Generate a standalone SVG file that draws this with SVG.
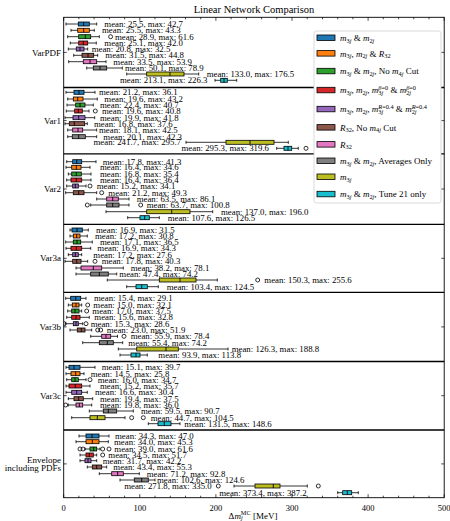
<svg xmlns="http://www.w3.org/2000/svg" width="450" height="521" viewBox="0 0 450 521">
<style>
text{font-family:"Liberation Serif","Times New Roman",serif;fill:#000}
.t{font-size:8.8px}
.e{font-size:8.8px;text-anchor:end}
.w{stroke:#000;stroke-width:0.8;fill:none}
.b{stroke:#000;stroke-width:0.8}
.m{stroke:#000;stroke-width:0.9;fill:none}
.o{fill:none;stroke:#000;stroke-width:0.8}
.c0{fill:#1f77b4}.c1{fill:#ff7f0e}.c2{fill:#2ca02c}.c3{fill:#d62728}.c4{fill:#9467bd}
.c5{fill:#8c564b}.c6{fill:#e377c2}.c7{fill:#7f7f7f}.c8{fill:#bcbd22}.c9{fill:#17becf}
.ax{stroke:#000;fill:none}
.tk{stroke:#000;stroke-width:0.7;fill:none}
.yl{font-size:9px;text-anchor:end}
.xl{font-size:8.5px;text-anchor:middle}
.lg{font-size:9px}
.i{font-style:italic}
.s{font-size:6.3px}
</style>
<defs>
<clipPath id="pc"><rect x="63.7" y="17.3" width="380.5" height="480.4"/></clipPath>
</defs>
<rect width="450" height="521" fill="#fff"/>
<text x="254" y="12.8" style="font-size:10.5px;text-anchor:middle">Linear Network Comparison</text>

<g id="boxes" clip-path="url(#pc)">
<g id="varpdf">
<g id="varpdf-1"><path class="w" d="M66 24H78.3M89.3 24H96.7M66 22.5V25.5M96.7 22.5V25.5"/><rect class="b c0" x="78.3" y="22" width="11" height="4"/><path class="m" d="M83.7 22V26"/><text class="t" x="104.3" y="26.8">mean: 25.5, max: 42.7</text></g>
<g id="varpdf-2"><path class="w" d="M71 30.3H77.7M89.3 30.3H94.3M71 28.8V31.8M94.3 28.8V31.8"/><rect class="b c1" x="77.7" y="28.3" width="11.6" height="4"/><path class="m" d="M83.7 28.3V32.3"/><text class="t" x="102" y="33.1">mean: 25.5, max: 43.3</text></g>
<g id="varpdf-3"><path class="w" d="M67.7 36.7H78.7M90.7 36.7H99.3M67.7 35.2V38.2M99.3 35.2V38.2"/><rect class="b c2" x="78.7" y="34.7" width="12" height="4"/><path class="m" d="M85.3 34.7V38.7"/><circle class="o" cx="110.6" cy="36.7" r="2"/><text class="t" x="115" y="39.5">mean: 28.9, max: 61.6</text></g>
<g id="varpdf-4"><path class="w" d="M70.3 43H78.7M87.7 43H96.3M70.3 41.5V44.5M96.3 41.5V44.5"/><rect class="b c3" x="78.7" y="41" width="9" height="4"/><path class="m" d="M83.3 41V45"/><text class="t" x="104.3" y="45.8">mean: 25.1, max: 42.0</text></g>
<g id="varpdf-5"><path class="w" d="M68.3 49H76.3M84 49H87.7M68.3 47.5V50.5M87.7 47.5V50.5"/><rect class="b c4" x="76.3" y="47" width="7.7" height="4"/><path class="m" d="M80 47V51"/><text class="t" x="91.7" y="51.8">mean: 20.8, max: 32.5</text></g>
<g id="varpdf-6"><path class="w" d="M73.7 55.3H82M93.7 55.3H97.7M73.7 53.8V56.8M97.7 53.8V56.8"/><rect class="b c5" x="82" y="53.3" width="11.7" height="4"/><path class="m" d="M88 53.3V57.3"/><text class="t" x="105.3" y="58.1">mean: 31.5, max: 44.8</text></g>
<g id="varpdf-7"><path class="w" d="M68.7 61.7H83.3M96.7 61.7H106M68.7 60.2V63.2M106 60.2V63.2"/><rect class="b c6" x="83.3" y="59.7" width="13.4" height="4"/><path class="m" d="M90 59.7V63.7"/><text class="t" x="113.3" y="64.5">mean: 33.5, max: 53.9</text></g>
<g id="varpdf-8"><path class="w" d="M86.7 68H93.3M106.7 68H122.3M86.7 66.5V69.5M122.3 66.5V69.5"/><rect class="b c7" x="93.3" y="66" width="13.4" height="4"/><path class="m" d="M100 66V70"/><text class="t" x="125" y="70.8">mean: 50.1, max: 78.9</text></g>
<g id="varpdf-9"><path class="w" d="M126.7 74H146.7M184 74H198.7M126.7 72.5V75.5M198.7 72.5V75.5"/><rect class="b c8" x="146.7" y="72" width="37.3" height="4"/><path class="m" d="M170 72V76"/><text class="t" x="206.7" y="76.8">mean: 133.0, max: 176.5</text></g>
<g id="varpdf-10"><path class="w" d="M215 80.3H220.7M227.3 80.3H236.7M215 78.8V81.8M236.7 78.8V81.8"/><rect class="b c9" x="220.7" y="78.3" width="6.6" height="4"/><path class="m" d="M224 78.3V82.3"/><text class="e" x="207.5" y="83.1">mean: 213.1, max: 226.3</text></g>
</g>

<g id="var1">
<g id="var1-1"><path class="w" d="M66 92.3H74M84 92.3H95M66 90.8V93.8M95 90.8V93.8"/><rect class="b c0" x="74" y="90.3" width="10" height="4"/><path class="m" d="M79 90.3V94.3"/><text class="t" x="99" y="95.1">mean: 21.2, max: 36.1</text></g>
<g id="var1-2"><path class="w" d="M67.7 99H73.3M83 99H97.3M67.7 97.5V100.5M97.3 97.5V100.5"/><rect class="b c1" x="73.3" y="97" width="9.7" height="4"/><path class="m" d="M77.7 97V101"/><text class="t" x="104.3" y="101.8">mean: 19.6, max: 43.2</text></g>
<g id="var1-3"><path class="w" d="M67 105H75.7M85 105H93.3M67 103.5V106.5M93.3 103.5V106.5"/><rect class="b c2" x="75.7" y="103" width="9.3" height="4"/><path class="m" d="M80 103V107"/><text class="t" x="100" y="107.8">mean: 22.4, max: 40.7</text></g>
<g id="var1-4"><path class="w" d="M66.3 111H74.7M82.3 111H89M66.3 109.5V112.5M89 109.5V112.5"/><rect class="b c3" x="74.7" y="109" width="7.6" height="4"/><path class="m" d="M78.3 109V113"/><circle class="o" cx="95.3" cy="111" r="2"/><text class="t" x="102" y="113.8">mean: 19.6, max: 40.8</text></g>
<g id="var1-5"><path class="w" d="M65 117.7H73M85 117.7H94.7M65 116.2V119.2M94.7 116.2V119.2"/><rect class="b c4" x="73" y="115.7" width="12" height="4"/><path class="m" d="M78.7 115.7V119.7"/><text class="t" x="100" y="120.5">mean: 19.9, max: 41.8</text></g>
<g id="var1-6"><path class="w" d="M65 123.7H69.3M84.7 123.7H87.3M65 122.2V125.2M87.3 122.2V125.2"/><rect class="b c5" x="69.3" y="121.7" width="15.4" height="4"/><path class="m" d="M74.3 121.7V125.7"/><text class="t" x="94" y="126.5">mean: 16.8, max: 37.6</text></g>
<g id="var1-7"><path class="w" d="M67.7 130H72.7M82.7 130H96.7M67.7 128.5V131.5M96.7 128.5V131.5"/><rect class="b c6" x="72.7" y="128" width="10" height="4"/><path class="m" d="M78 128V132"/><text class="t" x="99" y="132.8">mean: 18.1, max: 42.5</text></g>
<g id="var1-8"><path class="w" d="M67.7 136.7H72.3M85.3 136.7H96.7M67.7 135.2V138.2M96.7 135.2V138.2"/><rect class="b c7" x="72.3" y="134.7" width="13" height="4"/><path class="m" d="M78.7 134.7V138.7"/><text class="t" x="103.3" y="139.5">mean: 20.1, max: 42.3</text></g>
<g id="var1-9"><path class="w" d="M186 142.3H226M274 142.3H288.3M186 140.8V143.8M288.3 140.8V143.8"/><rect class="b c8" x="226" y="140.3" width="48" height="4"/><path class="m" d="M250 140.3V144.3"/><text class="e" x="181" y="145.1">mean: 241.7, max: 295.7</text></g>
<g id="var1-10"><path class="w" d="M276.7 148.3H284M291.7 148.3H298.3M276.7 146.8V149.8M298.3 146.8V149.8"/><rect class="b c9" x="284" y="146.3" width="7.7" height="4"/><path class="m" d="M288 146.3V150.3"/><circle class="o" cx="306" cy="148.3" r="2"/><text class="e" x="269" y="151.1">mean: 295.3, max: 319.6</text></g>
</g>

<g id="var2">
<g id="var2-1"><path class="w" d="M66.7 161.7H72.7M81.7 161.7H96M66.7 160.2V163.2M96 160.2V163.2"/><rect class="b c0" x="72.7" y="159.7" width="9" height="4"/><path class="m" d="M76.7 159.7V163.7"/><text class="t" x="102.7" y="164.5">mean: 17.8, max: 41.3</text></g>
<g id="var2-2"><path class="w" d="M66 167.3H71.7M81 167.3H90M66 165.8V168.8M90 165.8V168.8"/><rect class="b c1" x="71.7" y="165.3" width="9.3" height="4"/><path class="m" d="M76.3 165.3V169.3"/><text class="t" x="100" y="170.1">mean: 16.4, max: 34.6</text></g>
<g id="var2-3"><path class="w" d="M68.3 174H71.7M81.3 174H91M68.3 172.5V175.5M91 172.5V175.5"/><rect class="b c2" x="71.7" y="172" width="9.6" height="4"/><path class="m" d="M76.3 172V176"/><text class="t" x="100" y="176.8">mean: 16.8, max: 35.4</text></g>
<g id="var2-4"><path class="w" d="M66.7 180H71M81.7 180H91M66.7 178.5V181.5M91 178.5V181.5"/><rect class="b c3" x="71" y="178" width="10.7" height="4"/><path class="m" d="M76.3 178V182"/><text class="t" x="100" y="182.8">mean: 16.4, max: 36.4</text></g>
<g id="var2-5"><path class="w" d="M66.7 186H72.7M78.3 186H86M66.7 184.5V187.5M86 184.5V187.5"/><rect class="b c4" x="72.7" y="184" width="5.6" height="4"/><path class="m" d="M75.3 184V188"/><circle class="o" cx="90" cy="186" r="2"/><text class="t" x="96.7" y="188.8">mean: 15.2, max: 34.1</text></g>
<g id="var2-6"><path class="w" d="M65.7 192.7H73.3M84 192.7H96.7M65.7 191.2V194.2M96.7 191.2V194.2"/><rect class="b c5" x="73.3" y="190.7" width="10.7" height="4"/><path class="m" d="M78.7 190.7V194.7"/><circle class="o" cx="101.7" cy="192.7" r="2"/><text class="t" x="108.3" y="195.5">mean: 21.2, max: 49.3</text></g>
<g id="var2-7"><path class="w" d="M96.7 199H106.7M118.3 199H129M96.7 197.5V200.5M129 197.5V200.5"/><rect class="b c6" x="106.7" y="197" width="11.6" height="4"/><path class="m" d="M112.7 197V201"/><text class="t" x="136.7" y="201.8">mean: 63.5, max: 86.1</text></g>
<g id="var2-8"><path class="w" d="M90.7 205H106.7M119 205H129M90.7 203.5V206.5M129 203.5V206.5"/><rect class="b c7" x="106.7" y="203" width="12.3" height="4"/><path class="m" d="M112.7 203V207"/><circle class="o" cx="87.3" cy="205" r="2"/><circle class="o" cx="140.7" cy="205" r="2"/><text class="t" x="146.7" y="207.8">mean: 63.7, max: 100.8</text></g>
<g id="var2-9"><path class="w" d="M106 211.7H146.7M190 211.7H212.7M106 210.2V213.2M212.7 210.2V213.2"/><rect class="b c8" x="146.7" y="209.7" width="43.3" height="4"/><path class="m" d="M171.7 209.7V213.7"/><text class="t" x="221" y="214.5">mean: 137.0, max: 196.0</text></g>
<g id="var2-10"><path class="w" d="M127.7 217.7H140M149.3 217.7H159.3M127.7 216.2V219.2M159.3 216.2V219.2"/><rect class="b c9" x="140" y="215.7" width="9.3" height="4"/><path class="m" d="M144.7 215.7V219.7"/><text class="t" x="167.7" y="220.5">mean: 107.6, max: 126.5</text></g>
</g>

<g id="var3a">
<g id="var3a-1"><path class="w" d="M70 230H72M82.3 230H88.3M70 228.5V231.5M88.3 228.5V231.5"/><rect class="b c0" x="72" y="228" width="10.3" height="4"/><path class="m" d="M77 228V232"/><text class="t" x="96" y="232.8">mean: 16.9, max: 31.5</text></g>
<g id="var3a-2"><path class="w" d="M70 236H73.3M80 236H87.3M70 234.5V237.5M87.3 234.5V237.5"/><rect class="b c1" x="73.3" y="234" width="6.7" height="4"/><path class="m" d="M76.7 234V238"/><text class="t" x="95" y="238.8">mean: 17.2, max: 30.8</text></g>
<g id="var3a-3"><path class="w" d="M65.7 242H73.3M80.7 242H92.3M65.7 240.5V243.5M92.3 240.5V243.5"/><rect class="b c2" x="73.3" y="240" width="7.4" height="4"/><path class="m" d="M77 240V244"/><text class="t" x="100" y="244.8">mean: 17.1, max: 36.5</text></g>
<g id="var3a-4"><path class="w" d="M66 248.3H71M81.7 248.3H90.7M66 246.8V249.8M90.7 246.8V249.8"/><rect class="b c3" x="71" y="246.3" width="10.7" height="4"/><path class="m" d="M76.3 246.3V250.3"/><text class="t" x="97.3" y="251.1">mean: 16.9, max: 34.3</text></g>
<g id="var3a-5"><path class="w" d="M68.3 254.7H72.7M78.3 254.7H81.7M68.3 253.2V256.2M81.7 253.2V256.2"/><rect class="b c4" x="72.7" y="252.7" width="5.6" height="4"/><path class="m" d="M75.3 252.7V256.7"/><text class="t" x="93.3" y="257.5">mean: 17.2, max: 27.6</text></g>
<g id="var3a-6"><path class="w" d="M65 261.3H72.7M81 261.3H87.7M65 259.8V262.8M87.7 259.8V262.8"/><rect class="b c5" x="72.7" y="259.3" width="8.3" height="4"/><path class="m" d="M76.7 259.3V263.3"/><circle class="o" cx="95" cy="261.3" r="2"/><text class="t" x="101.7" y="264.1">mean: 17.8, max: 40.3</text></g>
<g id="var3a-7"><path class="w" d="M76 268H81M101.7 268H123.3M76 266.5V269.5M123.3 266.5V269.5"/><rect class="b c6" x="81" y="266" width="20.7" height="4"/><path class="m" d="M93.3 266V270"/><text class="t" x="130.7" y="270.8">mean: 38.2, max: 78.1</text></g>
<g id="var3a-8"><path class="w" d="M76 274H90.7M108.3 274H116.7M76 272.5V275.5M116.7 272.5V275.5"/><rect class="b c7" x="90.7" y="272" width="17.6" height="4"/><path class="m" d="M99.3 272V276"/><text class="t" x="119.3" y="276.8">mean: 47.4, max: 74.2</text></g>
<g id="var3a-9"><path class="w" d="M107.3 280H159.3M196 280H217.3M107.3 278.5V281.5M217.3 278.5V281.5"/><rect class="b c8" x="159.3" y="278" width="36.7" height="4"/><path class="m" d="M180 278V282"/><circle class="o" cx="257.7" cy="280" r="2"/><text class="t" x="264.3" y="282.8">mean: 150.3, max: 255.6</text></g>
<g id="var3a-10"><path class="w" d="M126.7 286.7H136M147.3 286.7H158.3M126.7 285.2V288.2M158.3 285.2V288.2"/><rect class="b c9" x="136" y="284.7" width="11.3" height="4"/><path class="m" d="M141.7 284.7V288.7"/><text class="t" x="166.7" y="289.5">mean: 103.4, max: 124.5</text></g>
</g>

<g id="var3b">
<g id="var3b-1"><path class="w" d="M65.7 298.3H70.7M80.7 298.3H86M65.7 296.8V299.8M86 296.8V299.8"/><rect class="b c0" x="70.7" y="296.3" width="10" height="4"/><path class="m" d="M75.7 296.3V300.3"/><text class="t" x="94" y="301.1">mean: 15.4, max: 29.1</text></g>
<g id="var3b-2"><path class="w" d="M68.3 305H72.3M79 305H81.7M68.3 303.5V306.5M81.7 303.5V306.5"/><rect class="b c1" x="72.3" y="303" width="6.7" height="4"/><path class="m" d="M76 303V307"/><circle class="o" cx="87.7" cy="305" r="2"/><text class="t" x="93.3" y="307.8">mean: 15.0, max: 32.1</text></g>
<g id="var3b-3"><path class="w" d="M67.7 311H71.7M79 311H81.7M67.7 309.5V312.5M81.7 309.5V312.5"/><rect class="b c2" x="71.7" y="309" width="7.3" height="4"/><path class="m" d="M75 309V313"/><circle class="o" cx="86.7" cy="311" r="2"/><text class="t" x="92.3" y="313.8">mean: 17.0, max: 37.5</text></g>
<g id="var3b-4"><path class="w" d="M66.7 317.3H71.7M80 317.3H89.3M66.7 315.8V318.8M89.3 315.8V318.8"/><rect class="b c3" x="71.7" y="315.3" width="8.3" height="4"/><path class="m" d="M76 315.3V319.3"/><text class="t" x="94.3" y="320.1">mean: 15.6, max: 32.8</text></g>
<g id="var3b-5"><path class="w" d="M65.3 323.7H73.3M78.3 323.7H82.7M65.3 322.2V325.2M82.7 322.2V325.2"/><rect class="b c4" x="73.3" y="321.7" width="5" height="4"/><path class="m" d="M76 321.7V325.7"/><circle class="o" cx="64.3" cy="323.7" r="2"/><circle class="o" cx="86" cy="323.7" r="2"/><text class="t" x="90.7" y="326.5">mean: 15.3, max: 28.6</text></g>
<g id="var3b-6"><path class="w" d="M70 330H77.3M85 330H91.7M70 328.5V331.5M91.7 328.5V331.5"/><rect class="b c5" x="77.3" y="328" width="7.7" height="4"/><path class="m" d="M81.3 328V332"/><circle class="o" cx="97.7" cy="330" r="2"/><circle class="o" cx="100.7" cy="330" r="2"/><text class="t" x="106.7" y="332.8">mean: 23.0, max: 51.9</text></g>
<g id="var3b-7"><path class="w" d="M90.7 336.3H101.7M110.7 336.3H117.5M90.7 334.8V337.8M117.5 334.8V337.8"/><rect class="b c6" x="101.7" y="334.3" width="9" height="4"/><path class="m" d="M106 334.3V338.3"/><circle class="o" cx="124" cy="336.3" r="2"/><text class="t" x="130.7" y="339.1">mean: 55.9, max: 78.4</text></g>
<g id="var3b-8"><path class="w" d="M82.7 342.7H99.3M113.3 342.7H122.7M82.7 341.2V344.2M122.7 341.2V344.2"/><rect class="b c7" x="99.3" y="340.7" width="14" height="4"/><path class="m" d="M107.3 340.7V344.7"/><text class="t" x="128.3" y="345.5">mean: 55.4, max: 74.2</text></g>
<g id="var3b-9"><path class="w" d="M118.3 349H136.7M178.3 349H228M118.3 347.5V350.5M228 347.5V350.5"/><rect class="b c8" x="136.7" y="347" width="41.6" height="4"/><path class="m" d="M166 347V351"/><text class="t" x="231.7" y="351.8">mean: 126.3, max: 188.8</text></g>
<g id="var3b-10"><path class="w" d="M120 355H131M140 355H147.3M120 353.5V356.5M147.3 353.5V356.5"/><rect class="b c9" x="131" y="353" width="9" height="4"/><path class="m" d="M136 353V357"/><text class="t" x="158.3" y="357.8">mean: 93.9, max: 113.8</text></g>
</g>

<g id="var3c">
<g id="var3c-1"><path class="w" d="M66 367.3H69M80 367.3H95M66 365.8V368.8M95 365.8V368.8"/><rect class="b c0" x="69" y="365.3" width="11" height="4"/><path class="m" d="M74 365.3V369.3"/><text class="t" x="101.7" y="370.1">mean: 15.1, max: 39.7</text></g>
<g id="var3c-2"><path class="w" d="M66 373.7H71M80 373.7H84M66 372.2V375.2M84 372.2V375.2"/><rect class="b c1" x="71" y="371.7" width="9" height="4"/><path class="m" d="M75.7 371.7V375.7"/><text class="t" x="90.7" y="376.5">mean: 14.5, max: 25.8</text></g>
<g id="var3c-3"><path class="w" d="M66.7 379.7H71.7M78.3 379.7H86M66.7 378.2V381.2M86 378.2V381.2"/><rect class="b c2" x="71.7" y="377.7" width="6.6" height="4"/><path class="m" d="M75 377.7V381.7"/><circle class="o" cx="90" cy="379.7" r="2"/><text class="t" x="97.7" y="382.5">mean: 16.0, max: 34.7</text></g>
<g id="var3c-4"><path class="w" d="M66 386H69M81.7 386H90M66 384.5V387.5M90 384.5V387.5"/><rect class="b c3" x="69" y="384" width="12.7" height="4"/><path class="m" d="M75.3 384V388"/><text class="t" x="100" y="388.8">mean: 15.2, max: 35.7</text></g>
<g id="var3c-5"><path class="w" d="M66 392.3H71.7M81.7 392.3H87.3M66 390.8V393.8M87.3 390.8V393.8"/><rect class="b c4" x="71.7" y="390.3" width="10" height="4"/><path class="m" d="M76.7 390.3V394.3"/><text class="t" x="95" y="395.1">mean: 16.6, max: 30.4</text></g>
<g id="var3c-6"><path class="w" d="M68.3 398.7H74M83.3 398.7H92.7M68.3 397.2V400.2M92.7 397.2V400.2"/><rect class="b c5" x="74" y="396.7" width="9.3" height="4"/><path class="m" d="M78.7 396.7V400.7"/><text class="t" x="100" y="401.5">mean: 19.4, max: 37.5</text></g>
<g id="var3c-7"><path class="w" d="M68.3 405H76M82.7 405H91.7M68.3 403.5V406.5M91.7 403.5V406.5"/><rect class="b c6" x="76" y="403" width="6.7" height="4"/><path class="m" d="M79.3 403V407"/><circle class="o" cx="65.7" cy="405" r="2"/><text class="t" x="100" y="407.8">mean: 19.8, max: 36.0</text></g>
<g id="var3c-8"><path class="w" d="M89.3 411H103.3M116.7 411H133.3M89.3 409.5V412.5M133.3 409.5V412.5"/><rect class="b c7" x="103.3" y="409" width="13.4" height="4"/><path class="m" d="M108.3 409V413"/><text class="t" x="141" y="413.8">mean: 59.5, max: 90.7</text></g>
<g id="var3c-9"><path class="w" d="M71.7 417.7H90M105 417.7H125M71.7 416.2V419.2M125 416.2V419.2"/><rect class="b c8" x="90" y="415.7" width="15" height="4"/><path class="m" d="M97.3 415.7V419.7"/><circle class="o" cx="131.7" cy="417.7" r="2"/><circle class="o" cx="143.3" cy="417.7" r="2"/><text class="t" x="150.7" y="420.5">mean: 44.7, max: 104.5</text></g>
<g id="var3c-10"><path class="w" d="M148.3 423.7H158M171 423.7H180M148.3 422.2V425.2M180 422.2V425.2"/><rect class="b c9" x="158" y="421.7" width="13" height="4"/><path class="m" d="M164.3 421.7V425.7"/><text class="t" x="184.3" y="426.5">mean: 131.5, max: 148.6</text></g>
</g>

<g id="envelope">
<g id="env-1"><path class="w" d="M79 436H86M99 436H109M79 434.5V437.5M109 434.5V437.5"/><rect class="b c0" x="86" y="434" width="13" height="4"/><path class="m" d="M92 434V438"/><text class="t" x="115" y="438.8">mean: 34.3, max: 47.0</text></g>
<g id="env-2"><path class="w" d="M76 441.7H86M99 441.7H108.3M76 440.2V443.2M108.3 440.2V443.2"/><rect class="b c1" x="86" y="439.7" width="13" height="4"/><path class="m" d="M92.3 439.7V443.7"/><text class="t" x="114" y="444.5">mean: 34.0, max: 45.3</text></g>
<g id="env-3"><path class="w" d="M85 449H90M96.7 449H100M85 447.5V450.5M100 447.5V450.5"/><rect class="b c2" x="90" y="447" width="6.7" height="4"/><path class="m" d="M93.7 447V451"/><circle class="o" cx="80" cy="449" r="2"/><circle class="o" cx="83" cy="449" r="2"/><circle class="o" cx="102.7" cy="449" r="2"/><circle class="o" cx="109" cy="449" r="2"/><text class="t" x="114.3" y="451.8">mean: 39.0, max: 61.6</text></g>
<g id="env-4"><path class="w" d="M80 455H86M93.3 455H96.7M80 453.5V456.5M96.7 453.5V456.5"/><rect class="b c3" x="86" y="453" width="7.3" height="4"/><path class="m" d="M89.3 453V457"/><circle class="o" cx="102.7" cy="455" r="2"/><text class="t" x="108.3" y="457.8">mean: 34.5, max: 51.7</text></g>
<g id="env-5"><path class="w" d="M80 460.7H85M91 460.7H96.7M80 459.2V462.2M96.7 459.2V462.2"/><rect class="b c4" x="85" y="458.7" width="6" height="4"/><path class="m" d="M88 458.7V462.7"/><text class="t" x="102.7" y="463.5">mean: 31.7, max: 42.2</text></g>
<g id="env-6"><path class="w" d="M87.3 467H92.3M101.7 467H106.7M87.3 465.5V468.5M106.7 465.5V468.5"/><rect class="b c5" x="92.3" y="465" width="9.4" height="4"/><path class="m" d="M96.7 465V469"/><text class="t" x="113.3" y="469.8">mean: 43.4, max: 55.3</text></g>
<g id="env-7"><path class="w" d="M99.3 473.7H111.7M123.3 473.7H139.3M99.3 472.2V475.2M139.3 472.2V475.2"/><rect class="b c6" x="111.7" y="471.7" width="11.6" height="4"/><path class="m" d="M117.7 471.7V475.7"/><text class="t" x="146.7" y="476.5">mean: 71.2, max: 92.8</text></g>
<g id="env-8"><path class="w" d="M120 480H134.3M148.3 480H155M120 478.5V481.5M155 478.5V481.5"/><rect class="b c7" x="134.3" y="478" width="14" height="4"/><path class="m" d="M141.7 478V482"/><text class="t" x="157" y="482.8">mean: 102.6, max: 124.6</text></g>
<g id="env-9"><path class="w" d="M234 486H255M280 486H307.3M234 484.5V487.5M307.3 484.5V487.5"/><rect class="b c8" x="255" y="484" width="25" height="4"/><path class="m" d="M273.3 484V488"/><circle class="o" cx="218.3" cy="486" r="2"/><circle class="o" cx="318.3" cy="486" r="2"/><text class="e" x="211.7" y="488.8">mean: 271.8, max: 335.0</text></g>
<g id="env-10"><path class="w" d="M337.7 492.7H342.7M351.7 492.7H358.3M337.7 491.2V494.2M358.3 491.2V494.2"/><rect class="b c9" x="342.7" y="490.7" width="9" height="4"/><path class="m" d="M347.3 490.7V494.7"/><text class="e" x="306.7" y="495.5">mean: 373.4, max: 387.2</text></g>
</g>
</g>

<g id="axes">
<rect class="ax" x="63.7" y="17.3" width="380.5" height="480.4" stroke-width="0.9"/>
<path class="ax" stroke-width="1.3" d="M63.7 87.5H444.2M63.7 153.8H444.2M63.7 224.3H444.2M63.7 292.3H444.2M63.7 361.5H444.2M63.7 430H444.2"/>
<path class="tk" d="M63.7 497.7v-3.5M139.8 497.7v-3.5M215.9 497.7v-3.5M292 497.7v-3.5M368.1 497.7v-3.5M444.2 497.7v-3.5M63.7 17.3v3.5M139.8 17.3v3.5M215.9 17.3v3.5M292 17.3v3.5M368.1 17.3v3.5M444.2 17.3v3.5"/>
<path class="tk" d="M78.9 497.7v-2M94.1 497.7v-2M109.4 497.7v-2M124.6 497.7v-2M155 497.7v-2M170.3 497.7v-2M185.5 497.7v-2M200.7 497.7v-2M231.1 497.7v-2M246.4 497.7v-2M261.6 497.7v-2M276.8 497.7v-2M307.2 497.7v-2M322.5 497.7v-2M337.7 497.7v-2M352.9 497.7v-2M383.3 497.7v-2M398.6 497.7v-2M413.8 497.7v-2M429 497.7v-2M78.9 17.3v2M94.1 17.3v2M109.4 17.3v2M124.6 17.3v2M155 17.3v2M170.3 17.3v2M185.5 17.3v2M200.7 17.3v2M231.1 17.3v2M246.4 17.3v2M261.6 17.3v2M276.8 17.3v2M307.2 17.3v2M322.5 17.3v2M337.7 17.3v2M352.9 17.3v2M383.3 17.3v2M398.6 17.3v2M413.8 17.3v2M429 17.3v2"/>
<path class="tk" d="M63.7 52.4h3M63.7 120.6h3M63.7 189h3M63.7 258.3h3M63.7 326.9h3M63.7 395.7h3M63.7 463.9h3M444.2 52.4h-3M444.2 120.6h-3M444.2 189h-3M444.2 258.3h-3M444.2 326.9h-3M444.2 395.7h-3M444.2 463.9h-3"/>
<text class="yl" x="61" y="55.5">VarPDF</text>
<text class="yl" x="61" y="123.7">Var1</text>
<text class="yl" x="61" y="192.1">Var2</text>
<text class="yl" x="61" y="261.4">Var3a</text>
<text class="yl" x="61" y="330">Var3b</text>
<text class="yl" x="61" y="398.8">Var3c</text>
<text class="yl" x="61" y="463.3">Envelope</text>
<text class="yl" x="61" y="470.8">including PDFs</text>
<text class="xl" x="63.7" y="511.3">0</text>
<text class="xl" x="139.8" y="511.3">100</text>
<text class="xl" x="215.9" y="511.3">200</text>
<text class="xl" x="292" y="511.3">300</text>
<text class="xl" x="368.1" y="511.3">400</text>
<text class="xl" x="444.2" y="511.3">500</text>
<text x="253" y="518.5" style="font-size:9px;text-anchor:middle">Δ<tspan class="i">m</tspan><tspan class="s i" dy="1.8">j</tspan><tspan class="s" dx="-1.8" dy="-5.5">MC</tspan><tspan dy="3.7"> [MeV]</tspan></text>
</g>

<g id="legend">
<rect x="314" y="31" width="127" height="172" rx="2.5" fill="#fff" stroke="#d0d0d0" stroke-width="0.8"/>
<rect class="b c0" x="317" y="35" width="18" height="5.5"/>
<rect class="b c1" x="317" y="50.6" width="18" height="5.5"/>
<rect class="b c2" x="317" y="68.3" width="18" height="5.5"/>
<rect class="b c3" x="317" y="87.3" width="18" height="5.5"/>
<rect class="b c4" x="317" y="106.3" width="18" height="5.5"/>
<rect class="b c5" x="317" y="124.6" width="18" height="5.5"/>
<rect class="b c6" x="317" y="141.6" width="18" height="5.5"/>
<rect class="b c7" x="317" y="158" width="18" height="5.5"/>
<rect class="b c8" x="317" y="174" width="18" height="5.5"/>
<rect class="b c9" x="317" y="191.3" width="18" height="5.5"/>
<text class="lg" x="340" y="40.9"><tspan class="i">m</tspan><tspan class="s" dy="1.8">3<tspan class="i">j</tspan></tspan><tspan dy="-1.8"> &amp; </tspan><tspan class="i">m</tspan><tspan class="s" dy="1.8">2<tspan class="i">j</tspan></tspan></text>
<text class="lg" x="340" y="56.5"><tspan class="i">m</tspan><tspan class="s" dy="1.8">3<tspan class="i">j</tspan></tspan><tspan dy="-1.8">, </tspan><tspan class="i">m</tspan><tspan class="s" dy="1.8">2<tspan class="i">j</tspan></tspan><tspan dy="-1.8"> &amp; </tspan><tspan class="i">R</tspan><tspan class="s" dy="1.8">32</tspan></text>
<text class="lg" x="340" y="74.2"><tspan class="i">m</tspan><tspan class="s" dy="1.8">3<tspan class="i">j</tspan></tspan><tspan dy="-1.8"> &amp; </tspan><tspan class="i">m</tspan><tspan class="s" dy="1.8">2<tspan class="i">j</tspan></tspan><tspan dy="-1.8">, No </tspan><tspan class="i">m</tspan><tspan class="s" dy="1.8">4<tspan class="i">j</tspan></tspan><tspan dy="-1.8"> Cut</tspan></text>
<text class="lg" x="340" y="93.2"><tspan class="i">m</tspan><tspan class="s" dy="1.8">3<tspan class="i">j</tspan></tspan><tspan dy="-1.8">, </tspan><tspan class="i">m</tspan><tspan class="s" dy="1.8">2<tspan class="i">j</tspan></tspan><tspan dy="-1.8">, </tspan><tspan class="i">m</tspan><tspan class="s" dy="1.8">3<tspan class="i">j</tspan></tspan><tspan class="s" dx="-4.9" dy="-5.3"><tspan class="i">β</tspan>=0</tspan><tspan dy="3.5"> &amp; </tspan><tspan class="i">m</tspan><tspan class="s" dy="1.8">2<tspan class="i">j</tspan></tspan><tspan class="s" dx="-4.9" dy="-5.3"><tspan class="i">β</tspan>=0</tspan></text>
<text class="lg" x="340" y="112.2"><tspan class="i">m</tspan><tspan class="s" dy="1.8">3<tspan class="i">j</tspan></tspan><tspan dy="-1.8">, </tspan><tspan class="i">m</tspan><tspan class="s" dy="1.8">2<tspan class="i">j</tspan></tspan><tspan dy="-1.8">, </tspan><tspan class="i">m</tspan><tspan class="s" dy="1.8">3<tspan class="i">j</tspan></tspan><tspan class="s" dx="-4.9" dy="-5.3"><tspan class="i">R</tspan>=0.4</tspan><tspan dy="3.5"> &amp; </tspan><tspan class="i">m</tspan><tspan class="s" dy="1.8">2<tspan class="i">j</tspan></tspan><tspan class="s" dx="-4.9" dy="-5.3"><tspan class="i">R</tspan>=0.4</tspan></text>
<text class="lg" x="340" y="130.5"><tspan class="i">R</tspan><tspan class="s" dy="1.8">32</tspan><tspan dy="-1.8">, No </tspan><tspan class="i">m</tspan><tspan class="s" dy="1.8">4<tspan class="i">j</tspan></tspan><tspan dy="-1.8"> Cut</tspan></text>
<text class="lg" x="340" y="147.5"><tspan class="i">R</tspan><tspan class="s" dy="1.8">32</tspan></text>
<text class="lg" x="340" y="163.9"><tspan class="i">m</tspan><tspan class="s" dy="1.8">3<tspan class="i">j</tspan></tspan><tspan dy="-1.8"> &amp; </tspan><tspan class="i">m</tspan><tspan class="s" dy="1.8">2<tspan class="i">j</tspan></tspan><tspan dy="-1.8">, Averages Only</tspan></text>
<text class="lg" x="340" y="179.9"><tspan class="i">m</tspan><tspan class="s" dy="1.8">3<tspan class="i">j</tspan></tspan></text>
<text class="lg" x="340" y="197.2"><tspan class="i">m</tspan><tspan class="s" dy="1.8">3<tspan class="i">j</tspan></tspan><tspan dy="-1.8"> &amp; </tspan><tspan class="i">m</tspan><tspan class="s" dy="1.8">2<tspan class="i">j</tspan></tspan><tspan dy="-1.8">, Tune 21 only</tspan></text>
</g>
</svg>
